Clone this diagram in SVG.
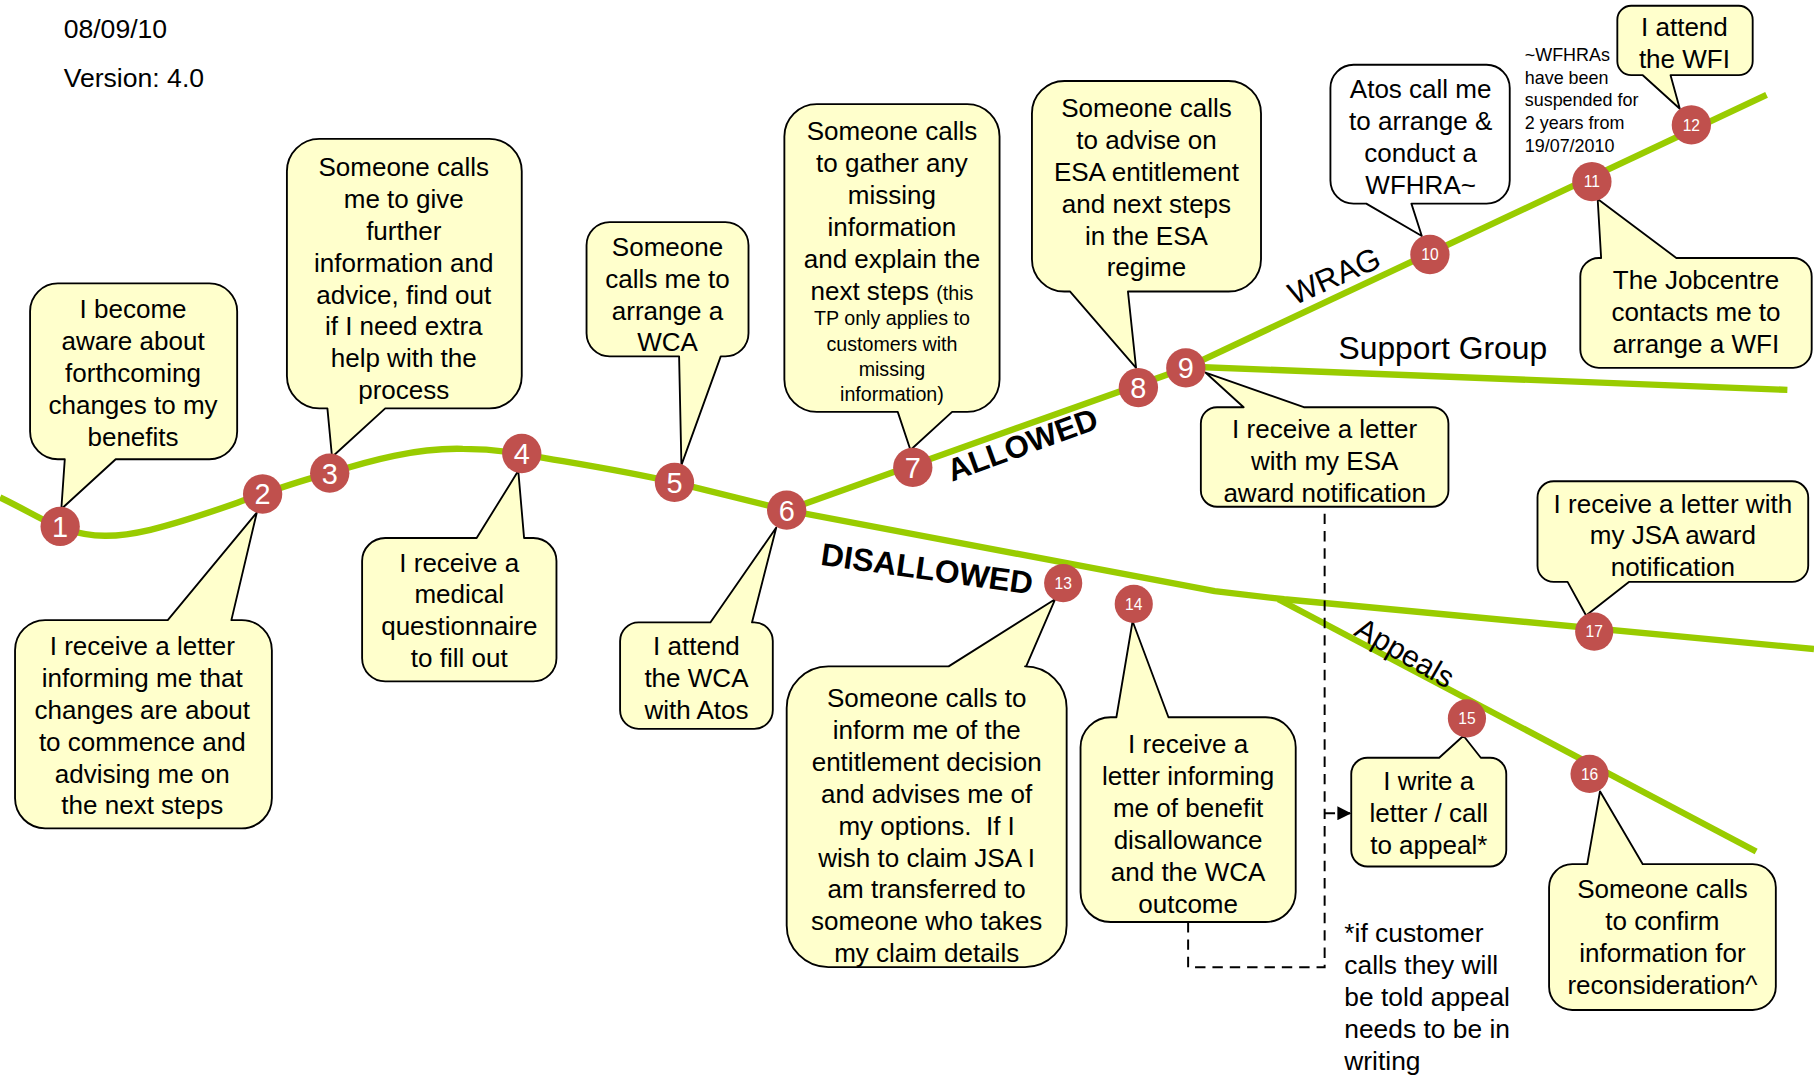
<svg xmlns="http://www.w3.org/2000/svg" width="1814" height="1076" viewBox="0 0 1814 1076">
<defs>
<style>
.box{fill:#FFFFCC;stroke:#000;stroke-width:1.6;stroke-linejoin:round}
.wbox{fill:#FFFFFF;stroke:#000;stroke-width:1.6;stroke-linejoin:round}
.t{font-family:"Liberation Sans",Arial,sans-serif;font-size:22.5px;text-anchor:middle;fill:#000}
.s{font-size:17px}
.g{fill:none;stroke:#99CC00;stroke-width:5.5;stroke-linejoin:round}
.n circle{fill:#C0504D}
.nb{font-family:"Liberation Sans",Arial,sans-serif;font-size:25px;fill:#fff;text-anchor:middle}
.ns{font-family:"Liberation Sans",Arial,sans-serif;font-size:13.5px;fill:#fff;text-anchor:middle}
.lbl{font-family:"Liberation Sans",Arial,sans-serif;fill:#000}
.dash{fill:none;stroke:#000;stroke-width:1.7;stroke-dasharray:9 6}
</style>
<marker id="arr" markerWidth="12" markerHeight="12" refX="11" refY="6" orient="auto" markerUnits="userSpaceOnUse">
<path d="M0,0 L12,6 L0,12 Z" fill="#000"/>
</marker>
</defs>
<rect width="1814" height="1076" fill="#fff"/>
<g transform="scale(1.156888)">
<g id="header" class="lbl" font-size="23">
<text x="55" y="33">08/09/10</text>
<text x="55" y="75">Version: 4.0</text>
</g>
<g id="connectors">
<path class="g" d="M0,430 C25,442 40,452 55,457 C80,465 100,465 130,458 C170,448 200,436 227,427 C250,419 265,414 285,409 C320,398 360,387 400,388 C420,388 440,390 460,394 C500,401 540,407 583,417 L680,441"/>
<path class="g" d="M680,441 L1025,318"/>
<path class="g" d="M1025,318 L1527,82"/>
<path class="g" d="M1030,317 L1545,337"/>
<path class="g" d="M680,441 L1050,511 L1110,518 L1568,561"/>
<path class="g" d="M1105,518 L1518,736"/>
<path class="dash" d="M1027,797 V836 H1145 V438"/>
<path class="dash" d="M1145,703 H1167" marker-end="url(#arr)"/>
<text class="lbl" font-size="27" font-weight="bold" transform="translate(887,393) rotate(-20)" text-anchor="middle">ALLOWED</text>
<text class="lbl" font-size="27.5" font-weight="bold" transform="translate(800,501) rotate(8)" text-anchor="middle">DISALLOWED</text>
<text class="lbl" font-size="27" transform="translate(1157,247) rotate(-24)" text-anchor="middle">WRAG</text>
<text class="lbl" font-size="26" transform="translate(1210,572) rotate(30)" text-anchor="middle">Appeals</text>
<text class="lbl" font-size="27.5" x="1157" y="310">Support Group</text>
</g>
<g id="c1"><path class="box" d="M50,245 H181 A24,24 0 0 1 205,269 V373 A24,24 0 0 1 181,397 H100 L53,440 L56,397 H50 A24,24 0 0 1 26,373 V269 A24,24 0 0 1 50,245 Z"/>
<text class="t" x="115" y="275">I become<tspan x="115" dy="27.6">aware about</tspan><tspan x="115" dy="27.6">forthcoming</tspan><tspan x="115" dy="27.6">changes to my</tspan><tspan x="115" dy="27.6">benefits</tspan></text></g>
<g id="c2"><path class="box" d="M39,536 H145 L222,443 L200,536 H209 A26,26 0 0 1 235,562 V690 A26,26 0 0 1 209,716 H39 A26,26 0 0 1 13,690 V562 A26,26 0 0 1 39,536 Z"/>
<text class="t" x="123" y="566">I receive a letter<tspan x="123" dy="27.6">informing me that</tspan><tspan x="123" dy="27.6">changes are about</tspan><tspan x="123" dy="27.6">to commence and</tspan><tspan x="123" dy="27.6">advising me on</tspan><tspan x="123" dy="27.6">the next steps</tspan></text></g>
<g id="c3"><path class="box" d="M276,120 H423 A28,28 0 0 1 451,148 V325 A28,28 0 0 1 423,353 H333 L287,395 L283,353 H276 A28,28 0 0 1 248,325 V148 A28,28 0 0 1 276,120 Z"/>
<text class="t" x="349" y="152">Someone calls<tspan x="349" dy="27.6">me to give</tspan><tspan x="349" dy="27.6">further</tspan><tspan x="349" dy="27.6">information and</tspan><tspan x="349" dy="27.6">advice, find out</tspan><tspan x="349" dy="27.6">if I need extra</tspan><tspan x="349" dy="27.6">help with the</tspan><tspan x="349" dy="27.6">process</tspan></text></g>
<g id="c4"><path class="box" d="M333,465 H412 L448,407 L453,465 H461 A20,20 0 0 1 481,485 V569 A20,20 0 0 1 461,589 H333 A20,20 0 0 1 313,569 V485 A20,20 0 0 1 333,465 Z"/>
<text class="t" x="397" y="494">I receive a<tspan x="397" dy="27.6">medical</tspan><tspan x="397" dy="27.6">questionnaire</tspan><tspan x="397" dy="27.6">to fill out</tspan></text></g>
<g id="c5"><path class="box" d="M527,192 H627 A20,20 0 0 1 647,212 V288 A20,20 0 0 1 627,308 H623 L589,402 L587,308 H527 A20,20 0 0 1 507,288 V212 A20,20 0 0 1 527,192 Z"/>
<text class="t" x="577" y="221">Someone<tspan x="577" dy="27.6">calls me to</tspan><tspan x="577" dy="27.6">arrange a</tspan><tspan x="577" dy="27.6">WCA</tspan></text></g>
<g id="c6"><path class="box" d="M552,538 H614 L671,456 L650,538 H652 A16,16 0 0 1 668,554 V614 A16,16 0 0 1 652,630 H552 A16,16 0 0 1 536,614 V554 A16,16 0 0 1 552,538 Z"/>
<text class="t" x="602" y="566">I attend<tspan x="602" dy="27.6">the WCA</tspan><tspan x="602" dy="27.6">with Atos</tspan></text></g>
<g id="c7"><path class="box" d="M706,90 H836 A28,28 0 0 1 864,118 V328 A28,28 0 0 1 836,356 H823 L787,389 L776,356 H706 A28,28 0 0 1 678,328 V118 A28,28 0 0 1 706,90 Z"/>
<text class="t" x="771" y="121">Someone calls<tspan x="771" dy="27.6">to gather any</tspan><tspan x="771" dy="27.6">missing</tspan><tspan x="771" dy="27.6">information</tspan><tspan x="771" dy="27.6">and explain the</tspan><tspan x="771" dy="27.6">next steps <tspan class="s">(this</tspan></tspan><tspan class="s" x="771" dy="22">TP only applies to</tspan><tspan class="s" x="771" dy="22">customers with</tspan><tspan class="s" x="771" dy="22">missing</tspan><tspan class="s" x="771" dy="22">information)</tspan></text></g>
<g id="c8"><path class="box" d="M920,70 H1062 A28,28 0 0 1 1090,98 V224 A28,28 0 0 1 1062,252 H975 L982,318 L925,252 H920 A28,28 0 0 1 892,224 V98 A28,28 0 0 1 920,70 Z"/>
<text class="t" x="991" y="101">Someone calls<tspan x="991" dy="27.6">to advise on</tspan><tspan x="991" dy="27.6">ESA entitlement</tspan><tspan x="991" dy="27.6">and next steps</tspan><tspan x="991" dy="27.6">in the ESA</tspan><tspan x="991" dy="27.6">regime</tspan></text></g>
<g id="c9"><path class="box" d="M1052,352 H1075 L1042,322 L1127,352 H1238 A14,14 0 0 1 1252,366 V424 A14,14 0 0 1 1238,438 H1052 A14,14 0 0 1 1038,424 V366 A14,14 0 0 1 1052,352 Z"/>
<text class="t" x="1145" y="379">I receive a letter<tspan x="1145" dy="27.6">with my ESA</tspan><tspan x="1145" dy="27.6">award notification</tspan></text></g>
<g id="c10"><path class="wbox" d="M1170,56 H1285 A20,20 0 0 1 1305,76 V156 A20,20 0 0 1 1285,176 H1220 L1229,204 L1181,176 H1170 A20,20 0 0 1 1150,156 V76 A20,20 0 0 1 1170,56 Z"/>
<text class="t" x="1228" y="85">Atos call me<tspan x="1228" dy="27.6">to arrange &amp;</tspan><tspan x="1228" dy="27.6">conduct a</tspan><tspan x="1228" dy="27.6">WFHRA~</tspan></text></g>
<g id="c11"><path class="box" d="M1382,223 H1384 L1381,172 L1449,223 H1550 A16,16 0 0 1 1566,239 V302 A16,16 0 0 1 1550,318 H1382 A16,16 0 0 1 1366,302 V239 A16,16 0 0 1 1382,223 Z"/>
<text class="t" x="1466" y="250">The Jobcentre<tspan x="1466" dy="27.6">contacts me to</tspan><tspan x="1466" dy="27.6">arrange a WFI</tspan></text></g>
<g id="c12"><path class="box" d="M1410,5 H1503 A12,12 0 0 1 1515,17 V53 A12,12 0 0 1 1503,65 H1444 L1452,94 L1420,65 H1410 A12,12 0 0 1 1398,53 V17 A12,12 0 0 1 1410,5 Z"/>
<text class="t" x="1456" y="31">I attend<tspan x="1456" dy="27.6">the WFI</tspan></text></g>
<g id="note-wfhra" class="lbl" font-size="15.5"><text x="1318" y="53">~WFHRAs<tspan x="1318" dy="19.5">have been</tspan><tspan x="1318" dy="19.5">suspended for</tspan><tspan x="1318" dy="19.5">2 years from</tspan><tspan x="1318" dy="19.5">19/07/2010</tspan></text></g>
<g id="c13"><path class="box" d="M716,576 H820 L912,518 L887,576 H886 A36,36 0 0 1 922,612 V800 A36,36 0 0 1 886,836 H716 A36,36 0 0 1 680,800 V612 A36,36 0 0 1 716,576 Z"/>
<text class="t" x="801" y="611">Someone calls to<tspan x="801" dy="27.6">inform me of the</tspan><tspan x="801" dy="27.6">entitlement decision</tspan><tspan x="801" dy="27.6">and advises me of</tspan><tspan x="801" dy="27.6" xml:space="preserve">my options.  If I</tspan><tspan x="801" dy="27.6">wish to claim JSA I</tspan><tspan x="801" dy="27.6">am transferred to</tspan><tspan x="801" dy="27.6">someone who takes</tspan><tspan x="801" dy="27.6">my claim details</tspan></text></g>
<g id="c14"><path class="box" d="M960,620 H965 L979,537 L1010,620 H1094 A26,26 0 0 1 1120,646 V771 A26,26 0 0 1 1094,797 H960 A26,26 0 0 1 934,771 V646 A26,26 0 0 1 960,620 Z"/>
<text class="t" x="1027" y="651">I receive a<tspan x="1027" dy="27.6">letter informing</tspan><tspan x="1027" dy="27.6">me of benefit</tspan><tspan x="1027" dy="27.6">disallowance</tspan><tspan x="1027" dy="27.6">and the WCA</tspan><tspan x="1027" dy="27.6">outcome</tspan></text></g>
<g id="c15"><path class="box" d="M1182,655 H1244 L1265,636 L1280,655 H1288 A14,14 0 0 1 1302,669 V735 A14,14 0 0 1 1288,749 H1182 A14,14 0 0 1 1168,735 V669 A14,14 0 0 1 1182,655 Z"/>
<text class="t" x="1235" y="683">I write a<tspan x="1235" dy="27.6">letter / call</tspan><tspan x="1235" dy="27.6">to appeal*</tspan></text></g>
<g id="c16"><path class="box" d="M1359,747 H1372 L1383,684 L1420,747 H1515 A20,20 0 0 1 1535,767 V853 A20,20 0 0 1 1515,873 H1359 A20,20 0 0 1 1339,853 V767 A20,20 0 0 1 1359,747 Z"/>
<text class="t" x="1437" y="776">Someone calls<tspan x="1437" dy="27.6">to confirm</tspan><tspan x="1437" dy="27.6">information for</tspan><tspan x="1437" dy="27.6">reconsideration^</tspan></text></g>
<g id="c17"><path class="box" d="M1343,416 H1549 A14,14 0 0 1 1563,430 V489 A14,14 0 0 1 1549,503 H1408 L1371,532 L1355,503 H1343 A14,14 0 0 1 1329,489 V430 A14,14 0 0 1 1343,416 Z"/>
<text class="t" x="1446" y="443">I receive a letter with<tspan x="1446" dy="27.6">my JSA award</tspan><tspan x="1446" dy="27.6">notification</tspan></text></g>
<g id="note-appeal" class="lbl" font-size="22.8"><text x="1162" y="814">*if customer<tspan x="1162" dy="27.8">calls they will</tspan><tspan x="1162" dy="27.8">be told appeal</tspan><tspan x="1162" dy="27.8">needs to be in</tspan><tspan x="1162" dy="27.8">writing</tspan></text></g>
<g id="n1" class="n"><circle cx="52" cy="455" r="17"/><text class="nb" x="52" y="464">1</text></g>
<g id="n2" class="n"><circle cx="227" cy="427" r="17"/><text class="nb" x="227" y="436">2</text></g>
<g id="n3" class="n"><circle cx="285" cy="409" r="17"/><text class="nb" x="285" y="418">3</text></g>
<g id="n4" class="n"><circle cx="451" cy="392" r="17"/><text class="nb" x="451" y="401">4</text></g>
<g id="n5" class="n"><circle cx="583" cy="417" r="17"/><text class="nb" x="583" y="426">5</text></g>
<g id="n6" class="n"><circle cx="680" cy="441" r="17"/><text class="nb" x="680" y="450">6</text></g>
<g id="n7" class="n"><circle cx="789" cy="404" r="17"/><text class="nb" x="789" y="413">7</text></g>
<g id="n8" class="n"><circle cx="984" cy="335" r="17"/><text class="nb" x="984" y="344">8</text></g>
<g id="n9" class="n"><circle cx="1025" cy="318" r="17"/><text class="nb" x="1025" y="327">9</text></g>
<g id="n10" class="n"><circle cx="1236" cy="220" r="17"/><text class="ns" x="1236" y="225">10</text></g>
<g id="n11" class="n"><circle cx="1376" cy="157" r="17"/><text class="ns" x="1376" y="162">11</text></g>
<g id="n12" class="n"><circle cx="1462" cy="108" r="17"/><text class="ns" x="1462" y="113">12</text></g>
<g id="n13" class="n"><circle cx="919" cy="504" r="16.5"/><text class="ns" x="919" y="509">13</text></g>
<g id="n14" class="n"><circle cx="980" cy="522" r="16.5"/><text class="ns" x="980" y="527">14</text></g>
<g id="n15" class="n"><circle cx="1268" cy="621" r="16.5"/><text class="ns" x="1268" y="626">15</text></g>
<g id="n16" class="n"><circle cx="1374" cy="669" r="16.5"/><text class="ns" x="1374" y="674">16</text></g>
<g id="n17" class="n"><circle cx="1378" cy="546" r="16.5"/><text class="ns" x="1378" y="551">17</text></g>
</g>
</svg>
